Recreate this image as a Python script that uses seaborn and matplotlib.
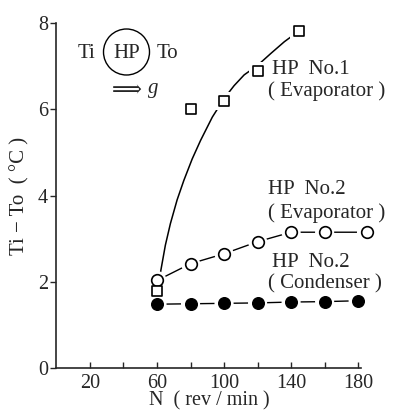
import matplotlib
matplotlib.use("Agg")
import matplotlib.pyplot as plt
import seaborn as sns
import pandas as pd
from matplotlib.patches import Circle

sns.set_style("ticks")
plt.rcParams['font.family'] = ['Liberation Serif', 'DejaVu Serif']
plt.rcParams['mathtext.fontset'] = 'dejavuserif'

# ---- data ----
n_hp1 = [60, 80, 100, 120, 145]
dt_hp1 = [1.78, 6.0, 6.19, 6.9, 7.81]

curve_n = [62, 65, 68, 72, 76, 81, 86, 93, 100, 106, 112, 120, 128, 136, 143]
curve_dt = [2.2, 2.85, 3.35, 3.9, 4.35, 4.85, 5.28, 5.82, 6.25, 6.55, 6.8, 7.02, 7.3, 7.57, 7.77]

n_hp2 = [60, 80, 100, 120, 140, 160, 185]
dt_hp2_evap = [2.03, 2.42, 2.65, 2.93, 3.15, 3.15, 3.15]

n_hp2c = [60, 80, 100, 120, 140, 160, 180]
dt_hp2_cond = [1.48, 1.49, 1.5, 1.51, 1.53, 1.54, 1.56]

xticks = [20, 40, 60, 80, 100, 120, 140, 160, 180]
xtick_labels = ["20", "", "60", "", "100", "", "140", "", "180"]
yticks = [0, 2, 4, 6, 8]

fig = plt.figure(figsize=(4.03, 4.12), dpi=100)
ax = fig.add_axes([0.140, 0.1068, 0.757, 0.837])

df_curve = pd.DataFrame({"N": curve_n, "dT": curve_dt})
df_evap = pd.DataFrame({"N": n_hp2, "dT": dt_hp2_evap})
df_cond = pd.DataFrame({"N": n_hp2c, "dT": dt_hp2_cond})
df_hp1 = pd.DataFrame({"N": n_hp1, "dT": dt_hp1})

# lines
sns.lineplot(data=df_curve, x="N", y="dT", ax=ax, color="black", lw=1.1, sort=False)
sns.lineplot(data=df_evap, x="N", y="dT", ax=ax, color="black", lw=1.0)
sns.lineplot(data=df_cond, x="N", y="dT", ax=ax, color="black", lw=1.0)

# white halos to create gaps around markers
halo_kw = dict(color="white", edgecolor="none", zorder=3, clip_on=False)
sns.scatterplot(data=df_evap, x="N", y="dT", ax=ax, marker="o", s=190, **halo_kw)
sns.scatterplot(data=df_cond, x="N", y="dT", ax=ax, marker="o", s=190, **halo_kw)
sns.scatterplot(data=df_hp1, x="N", y="dT", ax=ax, marker="s", s=170, **halo_kw)

# markers
sns.scatterplot(data=df_evap, x="N", y="dT", ax=ax, marker="o", s=70, color="white",
                edgecolor="black", linewidth=1.2, zorder=4, clip_on=False)
sns.scatterplot(data=df_cond, x="N", y="dT", ax=ax, marker="o", s=70, color="black",
                edgecolor="black", linewidth=1.0, zorder=4, clip_on=False)
sns.scatterplot(data=df_hp1, x="N", y="dT", ax=ax, marker="s", s=55, color="white",
                edgecolor="black", linewidth=1.2, zorder=4, clip_on=False)

ax.set_xlim(0, 182)
ax.set_ylim(0, 8)
ax.set_xticks(xticks)
ax.set_xticklabels(xtick_labels)
ax.set_yticks(yticks)
ax.tick_params(axis="x", direction="in", length=4, width=1, labelsize=14.5, pad=4)
ax.tick_params(axis="y", direction="out", length=4, width=1, labelsize=14.5, pad=2)
for sp in ["top", "right"]:
    ax.spines[sp].set_visible(False)
for sp in ["left", "bottom"]:
    ax.spines[sp].set_linewidth(1.2)
ax.set_xlabel("N  ( rev / min )", fontsize=14.5, labelpad=-1)
ax.set_ylabel("Ti − To  ( °C )", fontsize=15, labelpad=6)

fs = 15
ax.text(128.5, 6.93, "HP  No.1", fontsize=fs, va="center")
ax.text(126, 6.42, "( Evaporator )", fontsize=fs, va="center")
ax.text(126, 4.14, "HP  No.2", fontsize=fs, va="center")
ax.text(126, 3.6, "( Evaporator )", fontsize=fs, va="center")
ax.text(128.5, 2.45, "HP  No.2", fontsize=fs, va="center")
ax.text(126, 1.95, "( Condenser )", fontsize=fs, va="center")

# schematic
fig.text(78 / 403, 1 - 53 / 412, "Ti", fontsize=fs, va="center", ha="left")
fig.text(126.5 / 403, 1 - 53 / 412, "HP", fontsize=fs, va="center", ha="center")
fig.text(157 / 403, 1 - 53 / 412, "To", fontsize=fs, va="center", ha="left")
circ = Circle((1.265, (412 - 52) / 100), 0.23, transform=fig.dpi_scale_trans,
              fill=False, edgecolor="black", lw=1.0)
fig.patches.append(circ)
fig.text(108 / 403, 1 - 90 / 412, "$\\Longrightarrow$", fontsize=15, va="center", ha="left")
fig.text(148 / 403, 1 - 88 / 412, "g", fontsize=fs, style="italic", va="center", ha="left")

fig.savefig("out.png", dpi=100)
